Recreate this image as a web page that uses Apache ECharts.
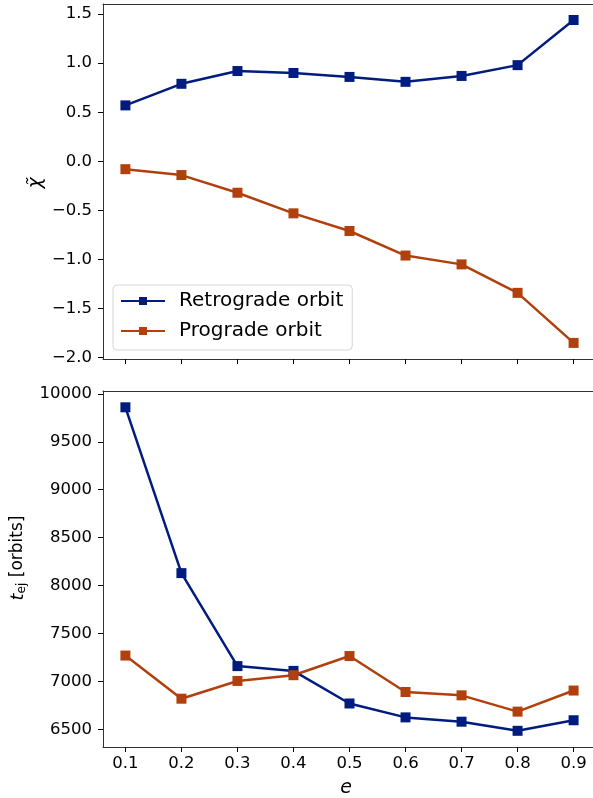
<!DOCTYPE html>
<html>
<head>
<meta charset="utf-8">
<script src="https://cdn.jsdelivr.net/npm/echarts@6/dist/echarts.min.js"></script>
<style>html,body{margin:0;padding:0;background:#fff;}#c{width:593px;height:798px;}</style>
</head>
<body>
<div id="c"></div>
<script>
const eValues = [0.1, 0.2, 0.3, 0.4, 0.5, 0.6, 0.7, 0.8, 0.9];
const chiRetro = [0.57, 0.79, 0.92, 0.90, 0.86, 0.81, 0.87, 0.98, 1.44];
const chiPro = [-0.08, -0.14, -0.32, -0.53, -0.71, -0.96, -1.05, -1.34, -1.85];
const tRetro = [9860, 8130, 7160, 7110, 6770, 6625, 6580, 6485, 6595];
const tPro = [7270, 6820, 7005, 7065, 7265, 6890, 6855, 6685, 6905];
const eTicks = [0.1, 0.2, 0.3, 0.4, 0.5, 0.6, 0.7, 0.8, 0.9];
const chiTicks = [-2.0, -1.5, -1.0, -0.5, 0.0, 0.5, 1.0, 1.5];
const tTicks = [6500, 7000, 7500, 8000, 8500, 9000, 9500, 10000];
const seriesNames = ['Retrograde orbit', 'Prograde orbit'];
const colors = ['#001c7f', '#b1400d'];

const FONT = 'DejaVu Sans';
const TICK_FS = 16.5;
const pairs = (xs, ys) => xs.map((x, i) => [x, ys[i]]);
const minus = s => s.replace('-', '\u2212');

const axisCommon = {
  axisLine: { show: true, onZero: false, lineStyle: { color: '#333', width: 1 } },
  axisTick: { show: true, length: 5, inside: false, lineStyle: { color: '#000', width: 1 } },
  splitLine: { show: false }
};

function xAxis(gridIndex, showLabels) {
  return Object.assign({}, axisCommon, {
    type: 'value', gridIndex, min: 0.06, max: 0.94, position: 'bottom',
    axisTick: Object.assign({}, axisCommon.axisTick, { customValues: eTicks }),
    axisLabel: {
      show: showLabels, customValues: eTicks, margin: 8,
      fontFamily: FONT, fontSize: TICK_FS, color: '#000',
      formatter: v => v.toFixed(1)
    }
  });
}

function topFrame(gridIndex) {
  return {
    type: 'value', gridIndex, min: 0.06, max: 0.94, position: 'top',
    axisLine: { show: true, onZero: false, lineStyle: { color: '#333', width: 1 } },
    axisTick: { show: false }, axisLabel: { show: false }, splitLine: { show: false }
  };
}

function yAxis(gridIndex, min, max, ticks, fmt) {
  return Object.assign({}, axisCommon, {
    type: 'value', gridIndex, min, max,
    axisTick: Object.assign({}, axisCommon.axisTick, { customValues: ticks }),
    axisLabel: {
      customValues: ticks, margin: 11,
      fontFamily: FONT, fontSize: TICK_FS, color: '#000',
      formatter: fmt
    }
  });
}

function lineSeries(name, color, xi, yi, data) {
  return {
    name, type: 'line', xAxisIndex: xi, yAxisIndex: yi,
    data, symbol: 'rect', symbolSize: 10,
    lineStyle: { color, width: 2.5 },
    itemStyle: { color },
    emphasis: { disabled: true },
    animation: false
  };
}

const chart = echarts.init(document.getElementById('c'), null, { renderer: 'canvas' });
chart.setOption({
  animation: false,
  backgroundColor: '#fff',
  grid: [
    { left: 103, top: 4, width: 493, height: 355, show: false, outerBoundsMode: 'none', containLabel: false },
    { left: 103, top: 391, width: 493, height: 356, show: false, outerBoundsMode: 'none', containLabel: false }
  ],
  xAxis: [xAxis(0, false), xAxis(1, true), topFrame(0), topFrame(1)],
  yAxis: [
    yAxis(0, -2.014, 1.603, chiTicks, v => minus(v.toFixed(1))),
    yAxis(1, 6316, 10030, tTicks, v => String(Math.round(v)))
  ],
  legend: {
    data: seriesNames,
    orient: 'vertical',
    left: 113, top: 285,
    backgroundColor: '#fff',
    borderColor: '#d6d6d6', borderWidth: 1, borderRadius: 4,
    padding: [5, 9, 8, 7],
    itemWidth: 44, itemHeight: 10, itemGap: 8,
    textStyle: { fontFamily: FONT, fontSize: 20, color: '#000', lineHeight: 22, padding: [0, 0, 0, 9] }
  },
  series: [
    lineSeries(seriesNames[0], colors[0], 0, 0, pairs(eValues, chiRetro)),
    lineSeries(seriesNames[1], colors[1], 0, 0, pairs(eValues, chiPro)),
    lineSeries(seriesNames[0], colors[0], 1, 1, pairs(eValues, tRetro)),
    lineSeries(seriesNames[1], colors[1], 1, 1, pairs(eValues, tPro))
  ],
  graphic: [
    { type: 'text', x: 36, y: 183, rotation: Math.PI / 2,
      style: { text: '\u03C7\u0303', fontFamily: FONT, fontSize: 19, fontStyle: 'italic', fill: '#000', align: 'center', verticalAlign: 'middle' } },
    { type: 'text', x: 18, y: 558, rotation: Math.PI / 2,
      style: {
        text: '{i|t}{s|ej}{n| [orbits]}', align: 'center', verticalAlign: 'middle', fill: '#000',
        rich: {
          i: { fontFamily: FONT, fontSize: 18, fontStyle: 'italic', lineHeight: 22, fill: '#000' },
          s: { fontFamily: FONT, fontSize: 12, lineHeight: 12, padding: [8, 0, 0, 0], fill: '#000' },
          n: { fontFamily: FONT, fontSize: 17, lineHeight: 22, fill: '#000' }
        }
      } },
    { type: 'text', x: 346, y: 788,
      style: { text: 'e', fontFamily: FONT, fontSize: 19, fontStyle: 'italic', fill: '#000', align: 'center', verticalAlign: 'middle' } }
  ]
});
</script>
</body>
</html>
